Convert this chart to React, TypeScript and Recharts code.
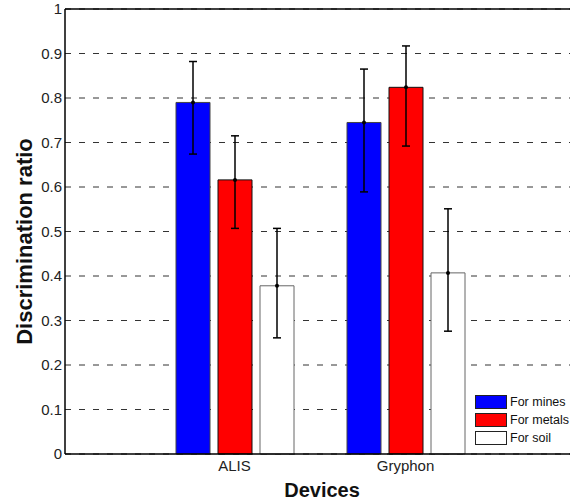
import React from 'react';
import { BarChart, Bar, XAxis, YAxis, CartesianGrid, ErrorBar, ReferenceLine } from 'recharts';

const devices = ['ALIS', 'Gryphon'];
const mines = [0.79, 0.745];
const metals = [0.616, 0.824];
const soil = [0.378, 0.407];
// [lower, upper] error lengths
const minesErr = [[0.116, 0.092], [0.156, 0.12]];
const metalsErr = [[0.109, 0.099], [0.132, 0.093]];
const soilErr = [[0.117, 0.129], [0.131, 0.144]];
const yTicks = [0, 0.1, 0.2, 0.3, 0.4, 0.5, 0.6, 0.7, 0.8, 0.9, 1];

const series = [
  { key: 'mines', name: 'For mines', fill: '#0000ff', stroke: '#444' },
  { key: 'metals', name: 'For metals', fill: '#ff0000', stroke: '#111' },
  { key: 'soil', name: 'For soil', fill: '#ffffff', stroke: '#666' },
];

const data = devices.map((name, i) => ({
  name,
  mines: mines[i],
  metals: metals[i],
  soil: soil[i],
  minesErr: minesErr[i],
  metalsErr: metalsErr[i],
  soilErr: soilErr[i],
}));

const FONT = '"Liberation Sans", Arial, Helvetica, sans-serif';

const TopDot = (props: any) => {
  const { x, y, width } = props;
  if (x == null || y == null) return null;
  return <circle cx={x + width / 2} cy={y} r={2} fill="#000" />;
};

const YLabel = ({ viewBox }: any) => {
  if (!viewBox) return null;
  const cx = viewBox.x + 24;
  const cy = viewBox.y + viewBox.height / 2 + 10;
  return (
    <text x={cx} y={cy} transform={`rotate(-90 ${cx} ${cy})`} textAnchor="middle" dominantBaseline="central"
      style={{ fontSize: 22, fontWeight: 700, fill: '#111', fontFamily: FONT }}>
      Discrimination ratio
    </text>
  );
};

export default function App() {
  return (
    <div style={{ position: 'absolute', left: 0, top: 0, width: 570, height: 501, overflow: 'hidden', background: '#fff' }}>
      <BarChart
        width={600}
        height={501}
        data={data}
        margin={{ top: 9, right: 21, left: 0, bottom: 0 }}
        barSize={34}
        barGap={8}
        style={{ fontFamily: FONT }}
      >
        <CartesianGrid vertical={false} stroke="#333" strokeDasharray="6 8" />
        <XAxis
          dataKey="name"
          height={47}
          padding={{ left: 84, right: 88 }}
          tickSize={0}
          tickMargin={6}
          axisLine={{ stroke: '#000', strokeWidth: 1.5 }}
          tick={{ fill: '#222', fontSize: 15 }}
          label={{ value: 'Devices', position: 'insideBottom', offset: 4, style: { fontSize: 20, fontWeight: 700, fill: '#111' } }}
        />
        <YAxis
          width={65}
          domain={[0, 1]}
          ticks={yTicks}
          interval={0}
          tickFormatter={(v: number) => (v === 0 || v === 1 ? String(v) : v.toFixed(1))}
          tickSize={0}
          tickMargin={3}
          axisLine={{ stroke: '#000', strokeWidth: 1.5 }}
          tick={{ fill: '#222', fontSize: 15 }}
          label={<YLabel />}
        />
        <ReferenceLine y={1} stroke="#000" strokeWidth={1.5} />
        {series.map((s) => (
          <Bar key={s.key} dataKey={s.key} name={s.name} fill={s.fill} stroke={s.stroke} strokeWidth={1} isAnimationActive={false} label={<TopDot />}>
            <ErrorBar dataKey={`${s.key}Err`} direction="y" width={4} stroke="#000" strokeWidth={1.5} />
          </Bar>
        ))}
      </BarChart>
      <div style={{ position: 'absolute', left: 470, top: 389, width: 100, height: 63, background: '#fff', fontFamily: FONT, fontSize: 12.5, color: '#111' }}>
        {series.map((s, i) => (
          <div key={s.key} style={{ position: 'absolute', left: 5, top: 6 + i * 18, display: 'flex', alignItems: 'center', height: 14, whiteSpace: 'nowrap' }}>
            <span style={{ display: 'inline-block', width: 30, height: 12, background: s.fill, border: '1px solid #222', marginRight: 3 }} />
            <span>{s.name}</span>
          </div>
        ))}
      </div>
    </div>
  );
}
